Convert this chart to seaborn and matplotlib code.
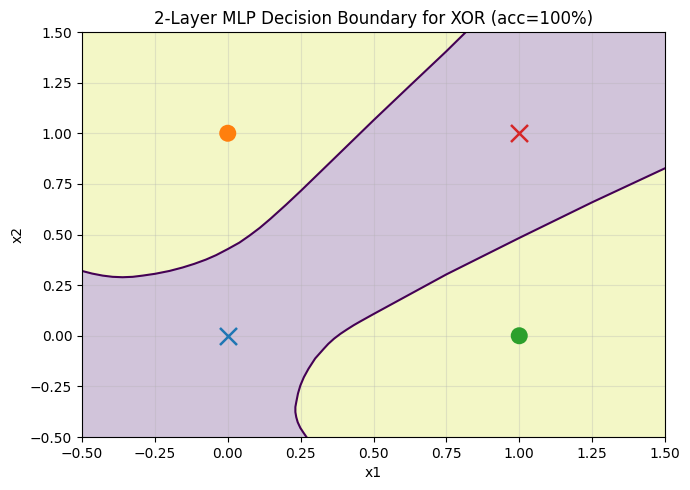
import numpy as np
import pandas as pd
import matplotlib
matplotlib.use("Agg")
import matplotlib.pyplot as plt
import seaborn as sns

# XOR points
pt_x = [0, 0, 1, 1]
pt_y = [0, 1, 0, 1]
pt_markers = ["x", "o", "o", "x"]
pt_colors = ["#1f77b4", "#ff7f0e", "#2ca02c", "#d62728"]

# Decision boundary curves
upper_x = [-0.50, -0.465, -0.429, -0.395, -0.361, -0.326, -0.292, -0.249, -0.20, -0.155,
           -0.115, -0.075, -0.04, 0.0, 0.04, 0.075, 0.11, 0.146, 0.20, 0.251, 0.352,
           0.50, 0.625, 0.75, 0.817]
upper_y = [0.320, 0.307, 0.297, 0.291, 0.289, 0.291, 0.297, 0.306, 0.320, 0.337,
           0.355, 0.376, 0.398, 0.428, 0.460, 0.495, 0.533, 0.577, 0.647, 0.716, 0.857,
           1.064, 1.235, 1.405, 1.50]
lower_x = [0.270, 0.259, 0.249, 0.240, 0.235, 0.232, 0.232, 0.235, 0.241, 0.249, 0.261, 0.277,
           0.30, 0.329, 0.345, 0.365, 0.387, 0.409, 0.432, 0.455, 0.50, 0.625, 0.75, 1.0,
           1.25, 1.5]
lower_y = [-0.50, -0.477, -0.455, -0.427, -0.402, -0.377, -0.352, -0.328, -0.285, -0.246,
           -0.205, -0.163, -0.112, -0.065, -0.040, -0.014, 0.010, 0.031, 0.052, 0.071, 0.107,
           0.205, 0.303, 0.483, 0.659, 0.827]

xlim = (-0.5, 1.5)
ylim = (-0.5, 1.5)

purple = "#d1c4da"
yellow = "#f3f7c6"
line_c = "#440154"

fig = plt.figure(figsize=(6.9, 4.9), dpi=100)
ax = fig.add_axes([82 / 690, 1 - 437 / 490, (665 - 82) / 690, (437 - 32) / 490])
ax.set_facecolor(yellow)

# purple region between the two boundaries
poly_x = list(upper_x) + [xlim[1]] + list(lower_x[::-1]) + [xlim[0]]
poly_y = list(upper_y) + [ylim[1]] + list(lower_y[::-1]) + [ylim[0]]
ax.fill(poly_x, poly_y, color=purple, lw=0, zorder=0)

up = pd.DataFrame({"x": upper_x, "y": upper_y})
lo = pd.DataFrame({"x": lower_x, "y": lower_y})
sns.lineplot(data=up, x="x", y="y", sort=False, estimator=None, color=line_c, lw=1.5,
             solid_joinstyle="round", ax=ax)
sns.lineplot(data=lo, x="x", y="y", sort=False, estimator=None, color=line_c, lw=1.5,
             solid_joinstyle="round", ax=ax)

for x, y, m, c in zip(pt_x, pt_y, pt_markers, pt_colors):
    if m == "x":
        sns.scatterplot(x=[x], y=[y], marker="x", color=c, s=150, linewidth=1.8, ax=ax, zorder=5)
    else:
        sns.scatterplot(x=[x], y=[y], marker="o", color=c, s=150, edgecolor="none", ax=ax, zorder=5)

ax.set_xlim(*xlim)
ax.set_ylim(*ylim)
ax.grid(True, alpha=0.3)
ax.set_xlabel("x1")
ax.set_ylabel("x2")
ax.set_title("2-Layer MLP Decision Boundary for XOR (acc=100%)")
fig.savefig("out.png", dpi=100)
